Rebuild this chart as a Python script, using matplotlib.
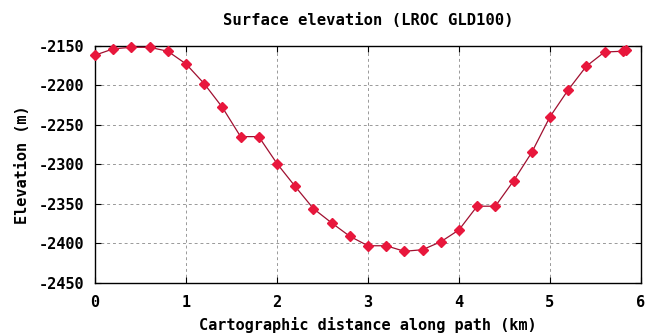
import numpy as np
import matplotlib
matplotlib.use("Agg")
import matplotlib.pyplot as plt

# profile (km, m)
DIST = [0.0, 0.2, 0.4, 0.6, 0.8, 1.0, 1.2, 1.4, 1.6, 1.8, 2.0, 2.2, 2.4, 2.6, 2.8,
        3.0, 3.2, 3.4, 3.6, 3.8, 4.0, 4.2, 4.4, 4.6, 4.8, 5.0, 5.2, 5.4, 5.6, 5.8, 5.84]
ELEV = [-2162, -2154, -2152, -2152, -2157, -2173, -2198, -2228, -2265, -2265, -2299,
        -2328, -2356, -2374, -2391, -2403, -2403, -2410, -2408, -2398, -2383, -2353,
        -2353, -2321, -2285, -2240, -2206, -2176, -2158, -2157, -2155]
XTICKS = [0, 1, 2, 3, 4, 5, 6]
YTICKS = [-2450, -2400, -2350, -2300, -2250, -2200, -2150]

MONO = "DejaVu Sans Mono"
FS = 11

fig = plt.figure(figsize=(6.56, 3.36), dpi=100)
ax = fig.add_axes([0.1448, 0.158, 0.8322, 0.706])

ax.plot(DIST, ELEV, color="#a01030", lw=0.9, marker="D", ms=5.5,
        mfc="#e8173c", mec="#e8173c", zorder=3, clip_on=False)

ax.set_xlim(0, 6)
ax.set_ylim(-2450, -2150)
ax.set_xticks(XTICKS)
ax.set_yticks(YTICKS)
ax.set_xticklabels([str(t) for t in XTICKS], fontfamily=MONO, fontweight="bold", fontsize=FS)
ax.set_yticklabels([str(t) for t in YTICKS], fontfamily=MONO, fontweight="bold", fontsize=FS)
ax.tick_params(direction="in", length=4, width=0.8, top=True, right=True)
ax.tick_params(axis="x", pad=9)
ax.tick_params(axis="y", pad=8)
ax.grid(True, ls=(0, (3, 3)), color="#999999", lw=0.7)
for s in ax.spines.values():
    s.set_linewidth(1.0)

ax.set_title("Surface elevation (LROC GLD100)", fontfamily=MONO, fontweight="bold",
             fontsize=11.2, pad=15)
ax.set_xlabel("Cartographic distance along path (km)", fontfamily=MONO,
              fontweight="bold", fontsize=FS, labelpad=5)
ax.set_ylabel("Elevation (m)", fontfamily=MONO, fontweight="bold", fontsize=FS,
              labelpad=6)

fig.savefig("out.png", dpi=100)
